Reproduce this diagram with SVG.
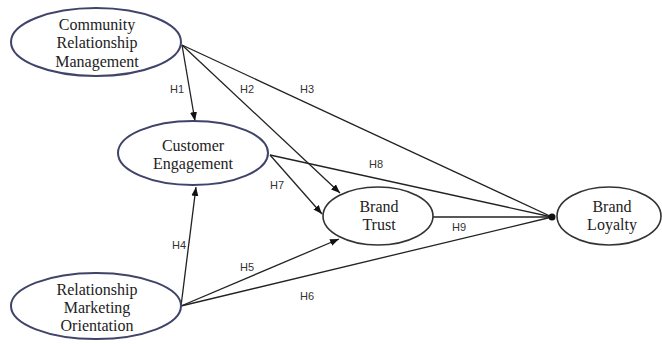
<svg xmlns="http://www.w3.org/2000/svg" width="662" height="344" viewBox="0 0 662 344">
<style>
.n1{fill:#fff;stroke:#3f4468;stroke-width:2}
.n2{fill:#fff;stroke:#333;stroke-width:1.6}
.t{font-family:"Liberation Serif","Times New Roman",serif;font-size:16px;fill:#222;text-anchor:middle}
.l{font-family:"Liberation Sans",Arial,sans-serif;font-size:11px;fill:#333;text-anchor:middle}
.c{stroke:#222;stroke-width:1.3;fill:none}
</style>
<defs>
<marker id="ar" markerUnits="userSpaceOnUse" markerWidth="10" markerHeight="10" viewBox="0 0 10 10" refX="9" refY="5" orient="auto">
<path d="M0,1.5 L9,5 L0,8.5 Z" fill="#111"/>
</marker>
</defs>
<g id="connectors">
<line class="c" x1="182" y1="45" x2="195" y2="121" marker-end="url(#ar)"/>
<line class="c" x1="182" y1="45" x2="340" y2="193" marker-end="url(#ar)"/>
<line class="c" x1="182" y1="45" x2="552" y2="217"/>
<line class="c" x1="270" y1="155" x2="552" y2="217"/>
<line class="c" x1="270" y1="155" x2="322" y2="214" marker-end="url(#ar)"/>
<line class="c" x1="433" y1="217" x2="552" y2="217"/>
<line class="c" x1="181" y1="306" x2="196" y2="187" marker-end="url(#ar)"/>
<line class="c" x1="181" y1="306" x2="339" y2="239" marker-end="url(#ar)"/>
<line class="c" x1="181" y1="306" x2="552" y2="217"/>
<circle cx="552" cy="217" r="3.5" fill="#111"/>
<text class="l" x="177" y="93">H1</text>
<text class="l" x="247" y="93">H2</text>
<text class="l" x="307" y="93">H3</text>
<text class="l" x="376" y="168">H8</text>
<text class="l" x="277" y="189">H7</text>
<text class="l" x="459" y="231">H9</text>
<text class="l" x="179" y="249">H4</text>
<text class="l" x="247" y="271">H5</text>
<text class="l" x="307" y="300">H6</text>
</g>
<g id="crm">
<ellipse class="n1" cx="96" cy="42" rx="85" ry="34"/>
<text class="t" x="97" y="30">Community</text>
<text class="t" x="97" y="48">Relationship</text>
<text class="t" x="97" y="67">Management</text>
</g>
<g id="ce">
<ellipse class="n1" cx="193" cy="153" rx="75" ry="32"/>
<text class="t" x="193" y="151">Customer</text>
<text class="t" x="193" y="169">Engagement</text>
</g>
<g id="bt">
<ellipse class="n2" cx="378" cy="216" rx="55" ry="29"/>
<text class="t" x="379" y="212">Brand</text>
<text class="t" x="379" y="230">Trust</text>
</g>
<g id="bl">
<ellipse class="n2" cx="609" cy="216" rx="52" ry="29"/>
<text class="t" x="612" y="212">Brand</text>
<text class="t" x="612" y="230">Loyalty</text>
</g>
<g id="rmo">
<ellipse class="n1" cx="96" cy="306" rx="85" ry="33"/>
<text class="t" x="97" y="295">Relationship</text>
<text class="t" x="97" y="313">Marketing</text>
<text class="t" x="97" y="331">Orientation</text>
</g>
</svg>
